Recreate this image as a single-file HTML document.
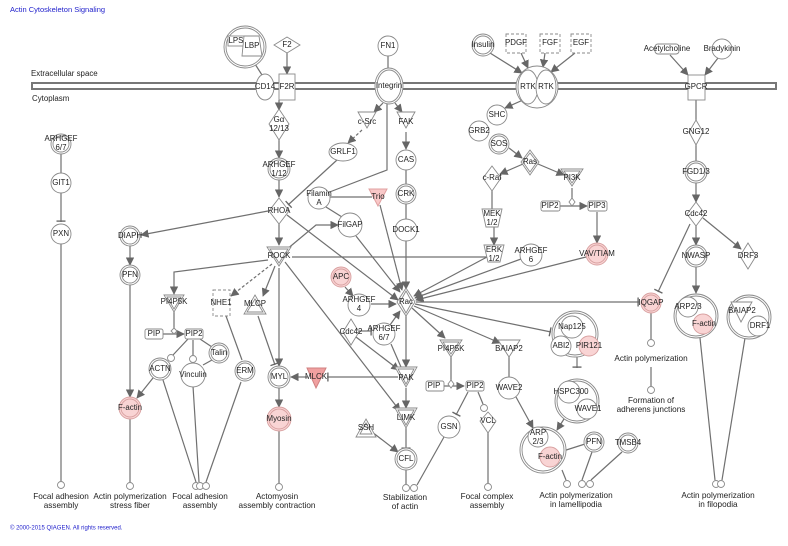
<!DOCTYPE html>
<html><head><meta charset="utf-8"><style>
body{margin:0;background:#fff}
svg{display:block}
text{font-family:"Liberation Sans",sans-serif;font-size:7.9px;fill:#222;text-anchor:middle;dominant-baseline:middle}
.n{fill:#fff;stroke:#8a8a8a;stroke-width:0.9}
.p{fill:#f9d4d4;stroke:#d8a0a0;stroke-width:0.9}
.e{stroke:#707070;stroke-width:1.2;fill:none}
.d{stroke-dasharray:3,2}
.lab text{font-size:8.2px}
</style></head><body>
<svg width="788" height="546" viewBox="0 0 788 546" xmlns="http://www.w3.org/2000/svg">
<defs>
<marker id="a" viewBox="0 0 10 10" refX="9" refY="5" markerWidth="7" markerHeight="7" orient="auto-start-reverse"><path d="M0,0L10,5L0,10z" fill="#666"/></marker>
<marker id="b" viewBox="0 0 4 10" refX="3" refY="5" markerWidth="3" markerHeight="8" orient="auto"><path d="M2,0V10" stroke="#666" stroke-width="1.5"/></marker>
</defs>
<text x="10" y="10" style="text-anchor:start;fill:#2222cc;font-size:7.5px">Actin Cytoskeleton Signaling</text>
<text x="10" y="528" style="text-anchor:start;fill:#2222cc;font-size:6px">© 2000-2015 QIAGEN. All rights reserved.</text>
<!-- membrane -->
<rect x="32" y="83" width="744" height="6" fill="#fff" stroke="#777" stroke-width="2"/>
<text x="31" y="74" style="text-anchor:start">Extracellular space</text>
<text x="32" y="99" style="text-anchor:start">Cytoplasm</text>

<!-- EDGES -->
<g class="e">
<path d="M287,53V74" marker-end="url(#a)"/>
<path d="M255,64L262,75"/>
<path d="M388,56V68"/>
<path d="M490,53L522,73" marker-end="url(#a)"/>
<path d="M521,53L528,68" marker-end="url(#a)"/>
<path d="M545,53L543,67" marker-end="url(#a)"/>
<path d="M575,53L551,72" marker-end="url(#a)"/>
<path d="M670,55L688,75" marker-end="url(#a)"/>
<path d="M718,58L705,75" marker-end="url(#a)"/>
<path d="M279,100V110" marker-end="url(#a)"/>
<path d="M279,140V158" marker-end="url(#a)"/>
<path d="M279,179V197" marker-end="url(#a)"/>
<path d="M279,224V245" marker-end="url(#a)"/>
<path d="M383,103L374,112" marker-end="url(#a)"/>
<path d="M395,103L402,112" marker-end="url(#a)"/>
<path class="d e" d="M362,130L348,143" marker-end="url(#a)"/>
<path d="M337,160L288,205" marker-end="url(#b)"/>
<path d="M387,100V170L327,193"/>
<path d="M330,197H372"/>
<path d="M326,207L342,217"/>
<path d="M406,132V149" marker-end="url(#a)"/>
<path d="M406,170V184M406,204V220M406,240V289" marker-end="url(#a)"/>
<path d="M380,205L402,290" marker-end="url(#a)"/>
<path d="M356,236L400,292" marker-end="url(#a)"/>
<path d="M287,215L398,300" marker-end="url(#a)"/>
<path d="M268,211L141,235" marker-end="url(#a)"/>
<path d="M130,246V265" marker-end="url(#a)"/>
<path d="M130,285V397" marker-end="url(#a)"/>
<path d="M286,250L316,225H338" marker-end="url(#a)"/>
<path d="M292,257H488"/>
<path d="M268,260L174,272V294" marker-end="url(#a)"/>
<path class="d e" d="M272,264L231,296" marker-end="url(#a)"/>
<path d="M275,266L263,296" marker-end="url(#a)"/>
<path d="M279,268V366" marker-end="url(#a)"/>
<path d="M285,262L400,411" marker-end="url(#a)"/>
<path d="M258,316L275,365" marker-end="url(#b)"/>
<path d="M307,377H291" marker-end="url(#a)"/>
<path d="M398,377H327" marker-end="url(#b)"/>
<path d="M279,388V407" marker-end="url(#a)"/>
<path d="M279,431V483"/>
<path d="M345,287L353,296" marker-end="url(#a)"/>
<path d="M371,304H396" marker-end="url(#a)"/>
<path d="M359,331H372" marker-end="url(#b)"/>
<path d="M390,325L400,311" marker-end="url(#a)"/>
<path d="M356,337L399,370" marker-end="url(#a)"/>
<path d="M391,344L401,367"/>
<path d="M406,316V367" marker-end="url(#a)"/>
<path d="M406,388V408" marker-end="url(#a)"/>
<path d="M406,428V449" marker-end="url(#b)"/>
<path d="M372,432L398,452" marker-end="url(#a)"/>
<path d="M406,470V484"/>
<path d="M444,437L417,485"/>
<path d="M487,257L414,296" marker-end="url(#a)"/>
<path d="M521,259L415,298" marker-end="url(#a)"/>
<path d="M586,257L416,300" marker-end="url(#a)"/>
<path d="M690,224L658,292" marker-end="url(#b)"/>
<path d="M416,302H639" marker-end="url(#b)"/>
<path d="M412,308L445,338" marker-end="url(#a)"/>
<path d="M414,306L500,343" marker-end="url(#a)"/>
<path d="M415,304L551,332" marker-end="url(#b)"/>
<path d="M451,357V381M440,386H464" marker-end="url(#a)"/>
<path d="M468,392L456,415" marker-end="url(#b)"/>
<path d="M478,392L483,404"/>
<path d="M488,430V483"/>
<path d="M509,357V378"/>
<path d="M516,397L533,428" marker-end="url(#a)"/>
<path d="M577,356V368" marker-end="url(#b)"/>
<path d="M564,419L557,430" marker-end="url(#a)"/>
<path d="M560,452L585,444"/>
<path d="M562,470L566,480"/>
<path d="M592,452L582,480"/>
<path d="M622,452L591,480"/>
<path d="M651,313V339M651,367V386"/>
<path d="M696,224V245" marker-end="url(#a)"/>
<path d="M703,218L741,249" marker-end="url(#a)"/>
<path d="M696,266V293" marker-end="url(#a)"/>
<path d="M700,338L715,480M745,338L722,480"/>
<path d="M61,154V173M61,193V222" marker-end="url(#b)"/>
<path d="M61,244V481"/>
<path d="M174,312V328M163,334H184" marker-end="url(#a)"/>
<path d="M188,339L173,355M193,340V355M200,339L212,347"/>
<path d="M153,378L137,398" marker-end="url(#a)"/>
<path d="M130,419V482"/>
<path d="M163,380L196,482M193,386L199,482M241,382L206,482M226,316L242,360M212,360L203,365"/>
<path d="M492,191V209M494,227V245" marker-end="url(#a)"/>
<path d="M523,100L505,108" marker-end="url(#a)"/>
<path d="M509,148L522,158" marker-end="url(#a)"/>
<path d="M523,164L500,174" marker-end="url(#a)"/>
<path d="M538,164L564,175" marker-end="url(#a)"/>
<path d="M572,188V200M560,206H587" marker-end="url(#a)"/>
<path d="M597,212V243" marker-end="url(#a)"/>
<path d="M696,100V120M696,145V161M696,183V202" marker-end="url(#a)"/>
</g>

<!-- NODES -->
<g>
<circle class="n" cx="245" cy="47" r="21"/><circle class="n" cx="245" cy="47" r="19"/>
<rect class="n" x="228" y="36" width="16" height="10"/><path class="n" d="M244,36H259L262,56H242z"/>
<text x="236" y="41">LPS</text><text x="252" y="46">LBP</text>
<path class="n" d="M287,37L300,45L287,53L274,45z"/><text x="287" y="45">F2</text>
<ellipse class="n" cx="265" cy="87" rx="9" ry="13"/><text x="265" y="87">CD14</text>
<rect class="n" x="279" y="74" width="16" height="26"/><text x="287" y="87">F2R</text>
<circle class="n" cx="388" cy="46" r="10"/><text x="388" y="46">FN1</text>
<ellipse class="n" cx="389" cy="86" rx="14" ry="18"/><ellipse class="n" cx="389" cy="86" rx="12" ry="16"/><text x="389" y="86">Integrin</text>
<circle class="n" cx="483" cy="45" r="11"/><circle class="n" cx="483" cy="45" r="9"/><text x="483" y="45">Insulin</text>
<rect class="n d" x="506" y="34" width="20" height="19"/><text x="516" y="43">PDGF</text>
<rect class="n d" x="540" y="34" width="20" height="19"/><text x="550" y="43">FGF</text>
<rect class="n d" x="571" y="34" width="20" height="19"/><text x="581" y="43">EGF</text>
<circle class="n" cx="537" cy="87" r="21"/><ellipse class="n" cx="528" cy="87" rx="10" ry="17"/><ellipse class="n" cx="546" cy="87" rx="10" ry="17"/>
<text x="528" y="87">RTK</text><text x="546" y="87">RTK</text>
<rect class="n" x="655" y="44" width="24" height="10" rx="3"/><text x="667" y="49">Acetylcholine</text>
<circle class="n" cx="722" cy="49" r="10"/><text x="722" y="49">Bradykinin</text>
<rect class="n" x="688" y="75" width="17" height="25"/><text x="696" y="87">GPCR</text>
<path class="n" d="M279,109L289,124L279,140L269,124z"/><text x="279" y="120">Gα</text><text x="279" y="129">12/13</text>
<path class="n" d="M358,112H376L367,128z"/><text x="367" y="122">c-Src</text>
<path class="n" d="M397,112H415L406,128z"/><text x="406" y="122">FAK</text>
<ellipse class="n" cx="343" cy="152" rx="14" ry="9"/><text x="343" y="152">GRLF1</text>
<circle class="n" cx="279" cy="169" r="11"/><circle class="n" cx="279" cy="169" r="9"/><text x="279" y="165">ARHGEF</text><text x="279" y="174">1/12</text>
<circle class="n" cx="61" cy="144" r="10"/><circle class="n" cx="61" cy="144" r="8"/><text x="61" y="139">ARHGEF</text><text x="61" y="148">6/7</text>
<circle class="n" cx="61" cy="183" r="10"/><text x="61" y="183">GIT1</text>
<circle class="n" cx="61" cy="234" r="10"/><text x="61" y="234">PXN</text>
<circle class="n" cx="406" cy="160" r="10"/><text x="406" y="160">CAS</text>
<circle class="n" cx="406" cy="194" r="10"/><circle class="n" cx="406" cy="194" r="8"/><text x="406" y="194">CRK</text>
<circle class="n" cx="406" cy="230" r="11"/><text x="406" y="230">DOCK1</text>
<circle class="n" cx="497" cy="115" r="10"/><text x="497" y="115">SHC</text>
<circle class="n" cx="479" cy="131" r="10"/><text x="479" y="131">GRB2</text>
<circle class="n" cx="499" cy="144" r="10"/><circle class="n" cx="499" cy="144" r="8"/><text x="499" y="144">SOS</text>
<path class="n" d="M530,150L539,162L530,175L521,162z"/><path class="n" d="M530,153L537,162L530,172L523,162z"/><text x="530" y="162">Ras</text>
<path class="n" d="M492,166L501,178L492,191L483,178z"/><text x="492" y="178">c-Raf</text>
<path class="n" d="M561,169H583L572,186z"/><path class="n" d="M564,171H580L572,183z" style="fill:none"/><text x="572" y="178">PI3K</text>
<path class="n" d="M482,209H502L498,227H486z" /><text x="492" y="214">MEK</text><text x="492" y="223">1/2</text>
<path class="n" d="M484,245H504L500,262H488z"/><text x="494" y="250">ERK</text><text x="494" y="259">1/2</text>
<circle class="n" cx="531" cy="255" r="11"/><text x="531" y="251">ARHGEF</text><text x="531" y="260">6</text>
<rect class="n" x="541" y="201" width="19" height="10" rx="2"/><text x="550" y="206">PIP2</text>
<path class="n" d="M572,198L575,202L572,206L569,202z"/>
<rect class="n" x="588" y="201" width="19" height="10" rx="2"/><text x="597" y="206">PIP3</text>
<circle class="p" cx="597" cy="254" r="11"/><circle class="p" cx="597" cy="254" r="9"/><text x="597" y="254">VAV/TIAM</text>
<path class="n" d="M696,120L703,132L696,145L689,132z"/><text x="696" y="132">GNG12</text>
<circle class="n" cx="696" cy="172" r="11"/><circle class="n" cx="696" cy="172" r="9"/><text x="696" y="172">FGD1/3</text>
<path class="n" d="M696,202L705,214L696,226L687,214z"/><text x="696" y="214">Cdc42</text>
<circle class="n" cx="696" cy="256" r="11"/><circle class="n" cx="696" cy="256" r="9"/><text x="696" y="256">NWASP</text>
<path class="n" d="M748,243L756,256L748,269L740,256z"/><text x="748" y="256">DRF3</text>
<circle class="n" cx="319" cy="198" r="11"/><text x="319" y="194">Filamin</text><text x="319" y="203">A</text>
<path style="fill:#f9c8c8;stroke:#e0a0a0" d="M369,189H387L378,206z"/><text x="378" y="197">Trio</text>
<path class="n" d="M279,198L289,211L279,224L269,211z"/><text x="279" y="211">RHOA</text>
<circle class="n" cx="350" cy="225" r="12"/><text x="350" y="225">FilGAP</text>
<path class="n" d="M267,247H291L279,266z"/><path class="n" d="M270,249H288L279,263z" style="fill:none"/><text x="279" y="256">ROCK</text>
<circle class="n" cx="130" cy="236" r="10"/><circle class="n" cx="130" cy="236" r="8"/><text x="130" y="236">DIAPH</text>
<circle class="n" cx="130" cy="275" r="10"/><circle class="n" cx="130" cy="275" r="8"/><text x="130" y="275">PFN</text>
<path class="n" d="M164,295H184L174,312z"/><path class="n" d="M167,297H181L174,309z" style="fill:none"/><text x="174" y="302">PI4P5K</text>
<rect class="n d" x="213" y="290" width="17" height="26"/><text x="221" y="303">NHE1</text>
<path class="n" d="M255,295L266,314H244z"/><path class="n" d="M255,299L263,312H247z" style="fill:none"/><text x="255" y="304">MLCP</text>
<rect class="n" x="145" y="329" width="18" height="10" rx="2"/><text x="154" y="334">PIP</text>
<path class="n" d="M174,328L177,331L174,334L171,331z"/>
<rect class="n" x="185" y="329" width="18" height="10" rx="2"/><text x="194" y="334">PIP2</text>
<circle class="n" cx="171" cy="358" r="3.5"/><circle class="n" cx="193" cy="359" r="3.5"/>
<circle class="n" cx="219" cy="353" r="10"/><circle class="n" cx="219" cy="353" r="8"/><text x="219" y="353">Talin</text>
<circle class="n" cx="160" cy="369" r="11"/><circle class="n" cx="160" cy="369" r="9"/><text x="160" y="369">ACTN</text>
<circle class="n" cx="193" cy="375" r="12"/><text x="193" y="375">Vinculin</text>
<circle class="n" cx="245" cy="371" r="10"/><circle class="n" cx="245" cy="371" r="8"/><text x="245" y="371">ERM</text>
<circle class="p" cx="130" cy="408" r="11"/><circle class="p" cx="130" cy="408" r="9"/><text x="130" y="408">F-actin</text>
<circle class="n" cx="279" cy="377" r="11"/><circle class="n" cx="279" cy="377" r="9"/><text x="279" y="377">MYL</text>
<path style="fill:#f0a0a0;stroke:#d08080" d="M307,368H326L316,388z"/><text x="316" y="377">MLCK</text>
<circle class="p" cx="279" cy="419" r="12"/><circle class="p" cx="279" cy="419" r="10"/><text x="279" y="419">Myosin</text>
<circle class="p" cx="341" cy="277" r="10"/><circle class="p" cx="341" cy="277" r="8"/><text x="341" y="277">APC</text>
<circle class="n" cx="359" cy="305" r="11"/><text x="359" y="300">ARHGEF</text><text x="359" y="309">4</text>
<path class="n" d="M406,288L415,302L406,316L397,302z"/><path class="n" d="M406,291L412,302L406,313L400,302z"/><text x="406" y="302">Rac</text>
<path class="n" d="M351,319L359,332L351,345L343,332z"/><text x="351" y="332">Cdc42</text>
<circle class="n" cx="384" cy="334" r="11"/><text x="384" y="329">ARHGEF</text><text x="384" y="338">6/7</text>
<path class="n" d="M395,367H417L406,387z"/><path class="n" d="M398,369H414L406,384z" style="fill:none"/><text x="406" y="378">PAK</text>
<path class="n" d="M395,408H417L406,428z"/><path class="n" d="M398,410H414L406,425z" style="fill:none"/><text x="406" y="418">LIMK</text>
<path class="n" d="M366,419L376,437H356z"/><path class="n" d="M366,423L372,434H360z" style="fill:none"/><text x="366" y="428">SSH</text>
<circle class="n" cx="406" cy="459" r="11"/><circle class="n" cx="406" cy="459" r="9"/><text x="406" y="459">CFL</text>
<path class="n" d="M440,340H462L451,357z"/><path class="n" d="M443,342H459L451,354z" style="fill:none"/><text x="451" y="349">PI4P5K</text>
<rect class="n" x="426" y="381" width="18" height="10" rx="2"/><text x="434" y="386">PIP</text>
<path class="n" d="M451,380L454,384L451,388L448,384z"/>
<rect class="n" x="466" y="381" width="18" height="10" rx="2"/><text x="475" y="386">PIP2</text>
<path class="n" d="M498,340H520L509,357z"/><text x="509" y="349">BAIAP2</text>
<circle class="n" cx="509" cy="388" r="11"/><text x="509" y="388">WAVE2</text>
<circle class="n" cx="449" cy="427" r="11"/><text x="449" y="427">GSN</text>
<circle class="n" cx="484" cy="408" r="3.5"/>
<path class="n" d="M488,412L496,421L488,433L480,421z"/><text x="488" y="421">VCL</text>
<circle class="n" cx="575" cy="334" r="23"/><circle class="n" cx="575" cy="334" r="21"/>
<circle class="n" cx="572" cy="327" r="11"/><circle class="n" cx="561" cy="346" r="10"/><circle class="p" cx="589" cy="346" r="10"/>
<text x="572" y="327">Nap125</text><text x="561" y="346">ABI2</text><text x="589" y="346">PIR121</text>
<circle class="n" cx="577" cy="401" r="22"/><circle class="n" cx="577" cy="401" r="20"/>
<circle class="n" cx="569" cy="392" r="11"/><circle class="n" cx="587" cy="409" r="10"/>
<text x="571" y="392">HSPC300</text><text x="588" y="409">WAVE1</text>
<circle class="n" cx="543" cy="450" r="23"/><circle class="n" cx="543" cy="450" r="21"/>
<circle class="n" cx="538" cy="437" r="10"/><circle class="p" cx="550" cy="457" r="10"/>
<text x="538" y="433">ARP</text><text x="538" y="442">2/3</text><text x="550" y="457">F-actin</text>
<circle class="n" cx="594" cy="442" r="10"/><circle class="n" cx="594" cy="442" r="8"/><text x="594" y="442">PFN</text>
<circle class="n" cx="628" cy="443" r="10"/><circle class="n" cx="628" cy="443" r="8"/><text x="628" y="443">TMSB4</text>
<circle class="p" cx="651" cy="303" r="10"/><circle class="p" cx="651" cy="303" r="8"/><text x="651" y="303">IQGAP</text>
<circle class="n" cx="696" cy="316" r="22"/><circle class="n" cx="696" cy="316" r="20"/>
<circle class="n" cx="688" cy="307" r="10"/><circle class="p" cx="703" cy="324" r="10"/>
<text x="688" y="307">ARP2/3</text><text x="704" y="324">F-actin</text>
<circle class="n" cx="749" cy="317" r="22"/><circle class="n" cx="749" cy="317" r="20"/>
<path class="n" d="M731,302H752L741,322z"/><circle class="n" cx="758" cy="326" r="10"/>
<text x="742" y="311">BAIAP2</text><text x="760" y="326">DRF1</text>
<g class="n">
<circle cx="61" cy="485" r="3.5"/><circle cx="130" cy="486" r="3.5"/>
<circle cx="196" cy="486" r="3.5"/><circle cx="200" cy="486" r="3.5"/><circle cx="206" cy="486" r="3.5"/>
<circle cx="279" cy="487" r="3.5"/><circle cx="406" cy="488" r="3.5"/><circle cx="414" cy="488" r="3.5"/>
<circle cx="488" cy="487" r="3.5"/><circle cx="567" cy="484" r="3.5"/><circle cx="582" cy="484" r="3.5"/><circle cx="590" cy="484" r="3.5"/>
<circle cx="651" cy="343" r="3.5"/><circle cx="651" cy="390" r="3.5"/>
<circle cx="716" cy="484" r="3.5"/><circle cx="721" cy="484" r="3.5"/>
</g>
</g>
<g class="lab">
<text x="61" y="497">Focal adhesion</text><text x="61" y="506">assembly</text>
<text x="130" y="497">Actin polymerization</text><text x="130" y="506">stress fiber</text>
<text x="200" y="497">Focal adhesion</text><text x="200" y="506">assembly</text>
<text x="277" y="497">Actomyosin</text><text x="277" y="506">assembly contraction</text>
<text x="405" y="498">Stabilization</text><text x="405" y="507">of actin</text>
<text x="487" y="497">Focal complex</text><text x="487" y="506">assembly</text>
<text x="576" y="496">Actin polymerization</text><text x="576" y="505">in lamellipodia</text>
<text x="651" y="359">Actin polymerization</text>
<text x="651" y="401">Formation of</text><text x="651" y="410">adherens junctions</text>
<text x="718" y="496">Actin polymerization</text><text x="718" y="505">in filopodia</text>
</g>
</svg>
</body></html>
